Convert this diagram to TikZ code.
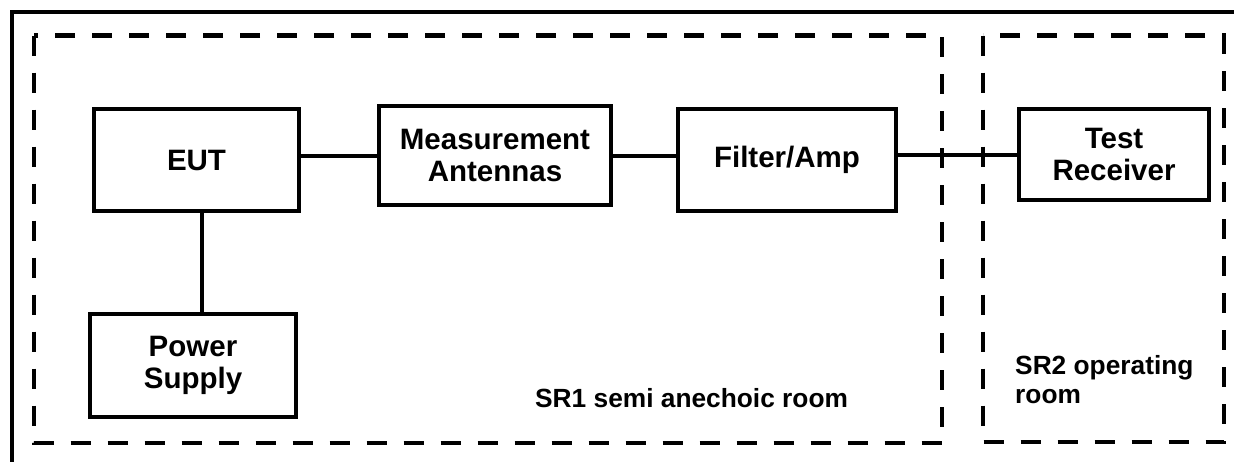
\documentclass[tikz,border=0pt]{standalone}
\usepackage{fontspec}
\setmainfont{Liberation Sans}
\begin{document}
\begin{tikzpicture}[x=1pt,y=-1pt,
  blk/.style={draw=black,line width=4pt,rectangle,inner sep=0pt,align=center,
    font=\bfseries\fontsize{29.5}{32}\selectfont},
  wire/.style={draw=black,line width=4pt},
  room/.style={draw=black,line width=4.5pt,dash pattern=on 20pt off 17pt},
  roomlbl/.style={inner sep=0pt,align=left,font=\bfseries\fontsize{26.3}{29}\selectfont}]
\useasboundingbox (0,0) rectangle (1234,461);
% outer frame
\draw[line width=4pt] (11.5,475) -- (11.5,12) -- (1250,12);
% rooms
\draw[room] (34,35.5) rectangle (942,443);
\draw[room] (983,35.5) rectangle (1224,442);
% blocks
\node[blk,minimum width=205pt,minimum height=102pt] (eut) at (196.5,160) {EUT};
\node[blk,minimum width=206pt,minimum height=103pt] (ps) at (193,365.5) {Power\\Supply};
\node[blk,minimum width=232pt,minimum height=99pt] (mant) at (495,155.5) {Measurement\\Antennas};
\node[blk,minimum width=218pt,minimum height=102pt] (filt) at (787,160) {Filter/Amp};
\node[blk,minimum width=190pt,minimum height=91pt] (rec) at (1114,154.5) {Test\\Receiver};
% connectors
\draw[wire] (eut.east |- mant.west) -- (mant.west);
\draw[wire] (mant.east) -- (mant.east -| filt.west);
\draw[wire] (filt.east |- rec.west) -- (rec.west);
\coordinate (pj) at ([xshift=5.5pt]eut.south);
\draw[wire] (pj) -- (pj |- ps.north);
% labels
\node[roomlbl,anchor=base west] (l1) at (535,407) {SR1 semi anechoic room};
\node[roomlbl,anchor=north west] (l2) at (1015,355) {SR2 operating\\room};
\end{tikzpicture}
\end{document}
